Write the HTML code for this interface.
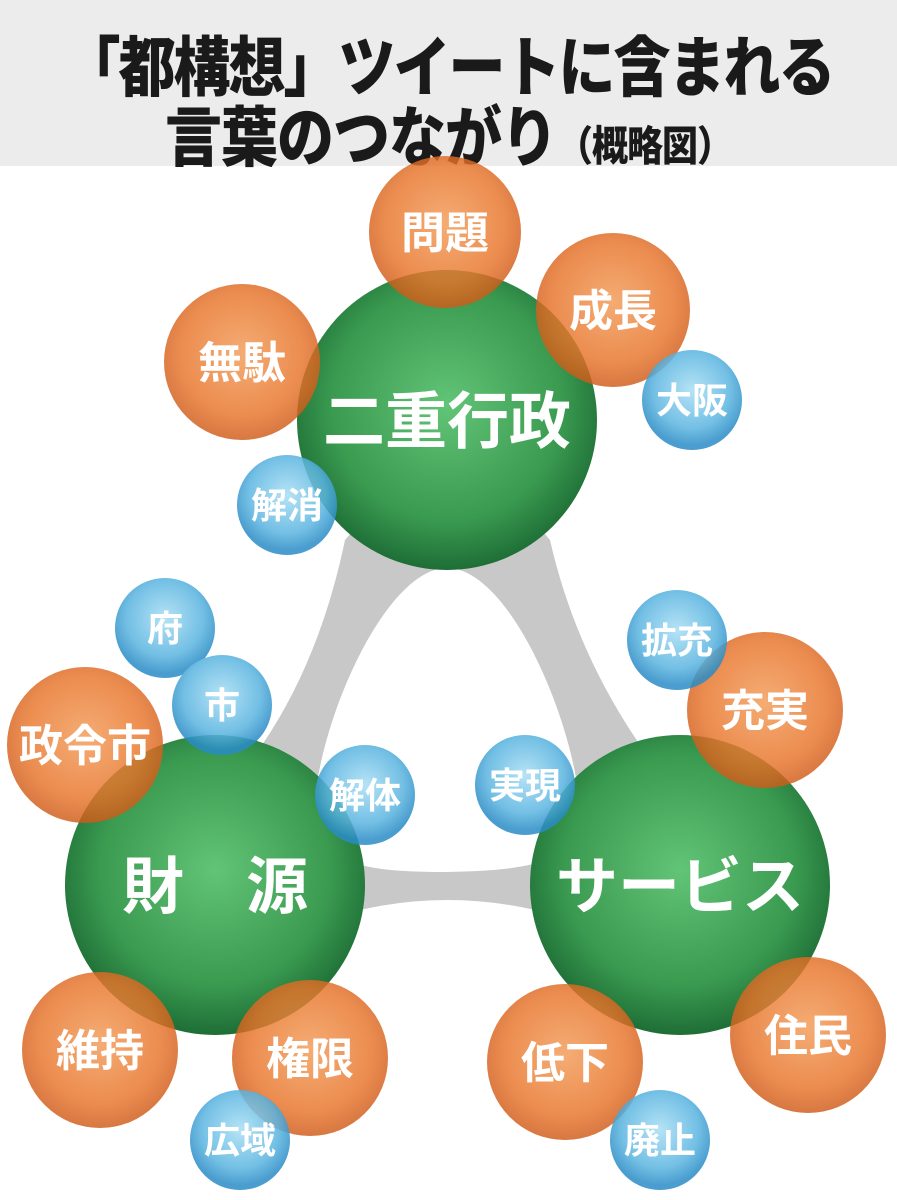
<!DOCTYPE html>
<html><head><meta charset="utf-8"><style>
body{margin:0;width:897px;height:1200px;background:#fff;overflow:hidden;font-family:"Liberation Sans","Noto Sans CJK JP",sans-serif}
.t{position:absolute;left:0;top:0;width:897px;height:166px;background:#ececec}
.l{position:absolute;left:0;width:897px;text-align:center;font-weight:900;color:#1a1a1a;white-space:nowrap;transform:scaleY(1.15)}
</style></head><body>
<div class="t"></div>
<div class="l" style="top:22px;font-size:57px;letter-spacing:-2px">「都構想」ツイートに含まれる</div>
<div class="l" style="top:92px;font-size:57px;letter-spacing:-1px">言葉のつながり<span style="font-size:36px">（概略図）</span></div>
<svg width="897" height="1200" style="position:absolute;left:0;top:0">
<defs>
<radialGradient id="g" cx="50%" cy="45%" r="55%"><stop offset="0" stop-color="#62c477"/><stop offset="0.7" stop-color="#3a9a50"/><stop offset="1" stop-color="#1e6e36"/></radialGradient>
<radialGradient id="o" cx="50%" cy="45%" r="55%"><stop offset="0" stop-color="#f29a55"/><stop offset="0.7" stop-color="#e8742a"/><stop offset="1" stop-color="#cf5a18"/></radialGradient>
<radialGradient id="b" cx="50%" cy="40%" r="55%"><stop offset="0" stop-color="#a8def4"/><stop offset="0.7" stop-color="#5ab4e0"/><stop offset="1" stop-color="#2a8cc6"/></radialGradient>
</defs>
<path d="M447,420 L345,540 Q320,660 262,745 L215,885 L360,910 Q447,890 535,910 L680,885 L640,745 Q575,650 550,540 Z" fill="#c8c8c8"/>
<path d="M447,568 C505,568 565,700 578,790 C588,862 540,870 447,872 C350,872 308,862 316,790 C328,700 390,568 447,568 Z" fill="#fff"/>
<g fill="url(#g)"><circle cx="447" cy="420" r="150"/><circle cx="215" cy="885" r="150"/><circle cx="680" cy="885" r="150"/></g>
<g fill="url(#o)" opacity="0.82">
<circle cx="445" cy="232" r="76"/><circle cx="613" cy="310" r="77"/><circle cx="242" cy="362" r="78"/>
<circle cx="765" cy="710" r="78"/><circle cx="85" cy="745" r="78"/><circle cx="100" cy="1050" r="78"/>
<circle cx="310" cy="1058" r="78"/><circle cx="565" cy="1062" r="78"/><circle cx="808" cy="1035" r="78"/></g>
<g fill="url(#b)" opacity="0.85">
<circle cx="692" cy="400" r="50"/><circle cx="287" cy="505" r="50"/><circle cx="165" cy="628" r="50"/>
<circle cx="222" cy="705" r="50"/><circle cx="677" cy="640" r="50"/><circle cx="365" cy="795" r="50"/>
<circle cx="525" cy="785" r="50"/><circle cx="240" cy="1140" r="50"/><circle cx="660" cy="1140" r="50"/></g>
<g fill="#fff" font-weight="bold" text-anchor="middle" font-family="Liberation Sans,Noto Sans CJK JP,sans-serif">
<g font-size="62"><text x="447" y="443">二重行政</text><text x="215" y="908">財　源</text><text x="680" y="908">サービス</text></g>
<g font-size="44"><text x="445" y="248">問題</text><text x="613" y="326">成長</text><text x="242" y="378">無駄</text>
<text x="765" y="726">充実</text><text x="85" y="761">政令市</text><text x="100" y="1066">維持</text>
<text x="310" y="1074">権限</text><text x="565" y="1078">低下</text><text x="808" y="1051">住民</text></g>
<g font-size="36"><text x="692" y="413">大阪</text><text x="287" y="518">解消</text><text x="165" y="641">府</text>
<text x="222" y="718">市</text><text x="677" y="653">拡充</text><text x="365" y="808">解体</text>
<text x="525" y="798">実現</text><text x="240" y="1153">広域</text><text x="660" y="1153">廃止</text></g>
</g>
</svg>
</body></html>
